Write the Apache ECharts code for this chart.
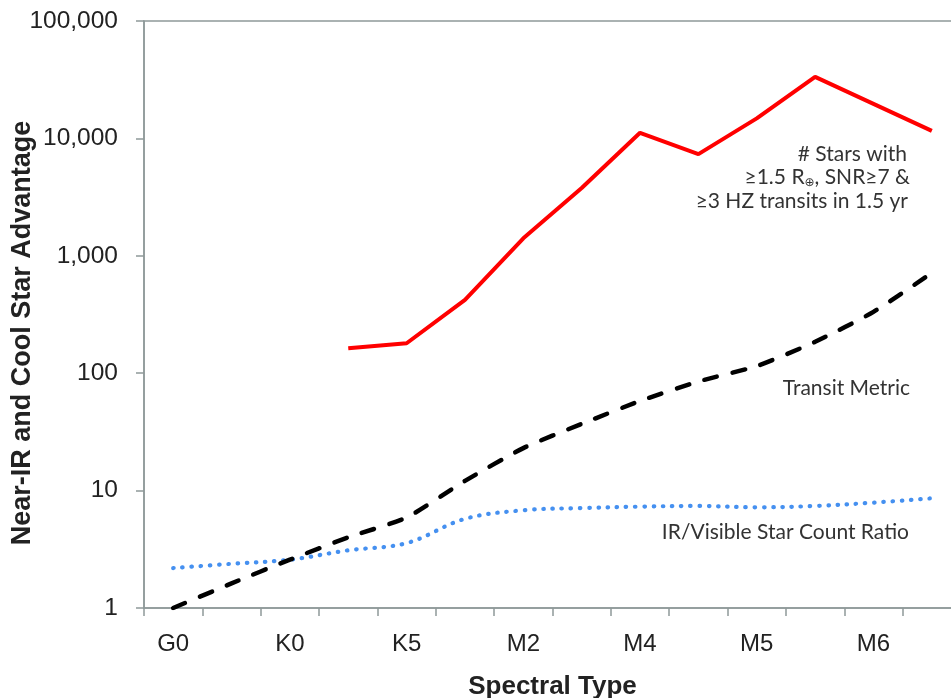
<!DOCTYPE html>
<html>
<head>
<meta charset="utf-8">
<script src="https://cdn.jsdelivr.net/npm/echarts@6/dist/echarts.min.js"></script>
<style>
html,body{margin:0;padding:0;background:#fff;}
#chart{width:951px;height:698px;}
</style>
</head>
<body>
<div id="chart"></div>
<script>
// Spectral type categories (labels shown on every other category)
var categories = ['G0','','K0','','K5','','M2','','M4','','M5','','M6',''];
// Transit Metric (black dashed)
var transitMetric = [1.0, 1.62, 2.58, 4.0, 5.9, 12.1, 23, 37, 58, 85, 115, 185, 333, 715];
// IR/Visible Star Count Ratio (blue dotted)
var irVisibleRatio = [2.19, 2.38, 2.58, 3.1, 3.57, 5.75, 6.8, 7.1, 7.3, 7.4, 7.2, 7.4, 7.9, 8.6];
// # Stars with >=1.5 Re, SNR>=7 & >=3 HZ transits in 1.5 yr (red)
var starCount = [null, null, null, 163, 180, 421, 1410, 3780, 11170, 7350, 14800, 33400, 19700, 11600];
// y tick range
var yMin = 1, yMax = 100000;

var axisGray = '#8e9999';
var textColor = '#222';
var annFont = 'Lato';
var annSize = 21;
var chart = echarts.init(document.getElementById('chart'));
chart.setOption({
  animation: false,
  backgroundColor: '#fff',
  grid: {
    left: 144, top: 21, width: 817, height: 587,
    outerBoundsMode: 'none',
    containLabel: false,
    show: true, borderColor: axisGray, borderWidth: 1.5, backgroundColor: 'transparent'
  },
  xAxis: {
    type: 'category',
    data: categories,
    boundaryGap: true,
    name: 'Spectral Type',
    nameLocation: 'middle',
    nameGap: 66,
    nameTextStyle: { fontFamily: 'Liberation Sans', fontWeight: 'bold', fontSize: 26, color: textColor },
    axisLine: { lineStyle: { color: axisGray, width: 1.5 } },
    axisTick: { show: true, interval: 0, length: 8, lineStyle: { color: axisGray, width: 1.5 } },
    axisLabel: { interval: 0, margin: 24, fontFamily: 'Liberation Sans', fontSize: 24, color: textColor },
    splitLine: { show: false }
  },
  yAxis: {
    type: 'log',
    logBase: 10,
    min: yMin,
    max: yMax,
    splitNumber: 5,
    axisLine: { show: true, lineStyle: { color: axisGray, width: 1.5 } },
    axisTick: { show: true, length: 8, lineStyle: { color: axisGray, width: 1.5 } },
    axisLabel: {
      margin: 26, fontFamily: 'Liberation Sans', fontSize: 24.5, color: textColor,
      formatter: function (v) { return Math.round(v).toLocaleString('en-US'); }
    },
    splitLine: { show: false },
    minorTick: { show: false }
  },
  series: [
    {
      name: 'IR/Visible Star Count Ratio',
      type: 'line',
      data: irVisibleRatio,
      smooth: 0.35,
      symbol: 'none',
      lineStyle: { color: '#4590f0', width: 4.2, type: [0.5, 8.7], cap: 'round' },
      z: 2
    },
    {
      name: 'Transit Metric',
      type: 'line',
      data: transitMetric,
      smooth: 0.2,
      symbol: 'none',
      lineStyle: { color: '#000', width: 4.5, type: [13, 16], cap: 'round' },
      z: 3
    },
    {
      name: '# Stars',
      type: 'line',
      data: starCount,
      symbol: 'none',
      connectNulls: false,
      lineStyle: { color: '#ff0000', width: 4 },
      z: 4
    }
  ],
  graphic: [
    {
      type: 'text', x: 22.5, y: 333, rotation: Math.PI / 2,
      style: { text: 'Near-IR and Cool Star Advantage', fontFamily: 'Liberation Sans', fontWeight: 'bold',
        fontSize: 27, fill: textColor, align: 'center', verticalAlign: 'middle' }
    },
    {
      type: 'text', x: 907, y: 154,
      style: { text: '# Stars with', fontFamily: annFont, fontSize: annSize, fill: '#333', align: 'right', verticalAlign: 'middle' }
    },
    {
      type: 'text', x: 910, y: 177,
      style: {
        text: '≥1.5 R{sub|⊕}, SNR≥7 &', fontFamily: annFont, fontSize: annSize, fill: '#333', align: 'right', verticalAlign: 'middle',
        rich: { sub: { fontFamily: 'DejaVu Sans', fontSize: 12, fill: '#333', padding: [12, 0, 0, 0] } }
      }
    },
    {
      type: 'text', x: 908, y: 201,
      style: { text: '≥3 HZ transits in 1.5 yr', fontFamily: annFont, fontSize: annSize, fill: '#333', align: 'right', verticalAlign: 'middle' }
    },
    {
      type: 'text', x: 910, y: 388,
      style: { text: 'Transit Metric', fontFamily: annFont, fontSize: annSize, fill: '#333', align: 'right', verticalAlign: 'middle' }
    },
    {
      type: 'text', x: 909, y: 532,
      style: { text: 'IR/Visible Star Count Ratio', fontFamily: annFont, fontSize: annSize, fill: '#333', align: 'right', verticalAlign: 'middle' }
    }
  ]
});
</script>
</body>
</html>
